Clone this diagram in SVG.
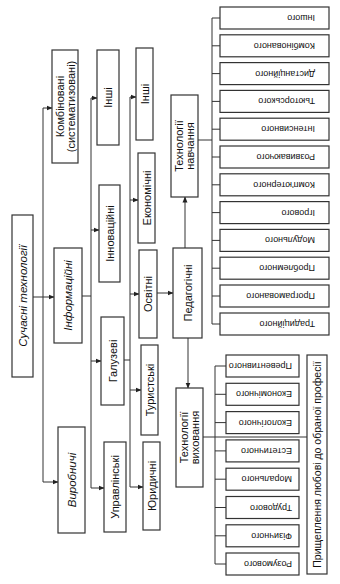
<svg xmlns="http://www.w3.org/2000/svg" width="340" height="584" viewBox="0 0 340 584">
<defs>
<marker id="ah" markerWidth="6" markerHeight="6" refX="5.5" refY="3" orient="auto" markerUnits="userSpaceOnUse">
<path d="M0,0.5 L6,3 L0,5.5 Z" fill="#222"/>
</marker>
<style>
rect{fill:#fff;stroke:#333;stroke-width:1.2}
.c line,.c path{stroke:#333;stroke-width:1;fill:none}
.a{marker-end:url(#ah)}
text{font-family:"Liberation Sans",Arial,sans-serif;fill:#111;text-anchor:middle;dominant-baseline:central}
.t{font-size:11px}
.i{font-size:11.5px;font-style:italic}
.s{font-size:9px;text-anchor:start}
.p{font-size:10.5px}
</style>
</defs>
<rect x="0" y="0" width="340" height="584" style="fill:#fff;stroke:none"/>

<g class="c" id="connectors">
<line x1="33" y1="297" x2="54" y2="297" class="a"/>
<line x1="43" y1="108" x2="43" y2="482"/>
<line x1="43" y1="108" x2="52" y2="108" class="a"/>
<line x1="43" y1="482" x2="58" y2="482" class="a"/>
<line x1="82" y1="296" x2="91" y2="296"/>
<line x1="91" y1="98" x2="91" y2="488"/>
<line x1="91" y1="98" x2="97" y2="98" class="a"/>
<line x1="91" y1="230" x2="99" y2="230" class="a"/>
<line x1="91" y1="361" x2="101" y2="361" class="a"/>
<line x1="91" y1="488" x2="104" y2="488" class="a"/>
<line x1="124" y1="360" x2="130" y2="360"/>
<line x1="130" y1="97" x2="130" y2="487"/>
<line x1="130" y1="97" x2="136" y2="97" class="a"/>
<line x1="130" y1="200" x2="138" y2="200" class="a"/>
<line x1="130" y1="294" x2="139" y2="294" class="a"/>
<line x1="130" y1="390" x2="141" y2="390" class="a"/>
<line x1="130" y1="487" x2="143" y2="487" class="a"/>
<line x1="157" y1="293" x2="173" y2="293" class="a"/>
<line x1="185" y1="248" x2="185" y2="197" class="a"/>
<line x1="188" y1="338" x2="188" y2="388" class="a"/>
<line x1="198" y1="140" x2="212" y2="140"/>
<line x1="212" y1="18" x2="212" y2="324"/>
<path d="M212,18H220M212,45.8H220M212,73.6H220M212,101.4H220M212,129.2H220M212,157H220M212,184.8H220M212,212.6H220M212,240.4H220M212,268.2H220M212,296H220M212,324H220"/>
<line x1="203" y1="437" x2="307" y2="437"/>
<line x1="215" y1="366" x2="215" y2="564"/>
<path d="M215,366H226M215,394.3H226M215,422.6H226M215,450.9H226M215,479.2H226M215,507.5H226M215,535.8H226M215,564H226"/>
</g>

<g id="n_root"><rect x="12" y="215" width="21" height="162"/><text class="i" transform="translate(22.5,296) rotate(-90)">Сучасні технології</text></g>
<g id="n_komb"><rect x="52" y="50" width="26" height="113"/><text class="t" transform="translate(65,106.5) rotate(-90)"><tspan x="0" y="-5.5">Комбіновані</tspan><tspan x="0" y="5.5">(систематизовані)</tspan></text></g>
<g id="n_inform"><rect x="54" y="248" width="28" height="95"/><text class="i" transform="translate(68,295.5) rotate(-90)">Інформаційні</text></g>
<g id="n_vyrob"><rect x="58" y="427" width="27" height="106"/><text class="i" transform="translate(71.5,480) rotate(-90)">Виробничі</text></g>
<g id="n_inshi1"><rect x="97" y="50" width="22" height="95"/><text class="t" transform="translate(108,97.5) rotate(-90)">Інші</text></g>
<g id="n_innov"><rect x="99" y="185" width="21" height="97"/><text class="t" transform="translate(109.5,233.5) rotate(-90)">Інноваційні</text></g>
<g id="n_haluz"><rect x="101" y="317" width="23" height="88"/><text class="t" transform="translate(112.5,361) rotate(-90)">Галузеві</text></g>
<g id="n_uprav"><rect x="104" y="442" width="22" height="90"/><text class="t" transform="translate(115,487) rotate(-90)">Управлінські</text></g>
<g id="n_inshi2"><rect x="136" y="48" width="17" height="92"/><text class="t" transform="translate(144.5,94) rotate(-90)">Інші</text></g>
<g id="n_ekon"><rect x="138" y="153" width="17" height="90"/><text class="t" transform="translate(146.5,198) rotate(-90)">Економічні</text></g>
<g id="n_osvit"><rect x="139" y="250" width="18" height="88"/><text class="t" transform="translate(148,294) rotate(-90)">Освітні</text></g>
<g id="n_turyst"><rect x="141" y="345" width="17" height="90"/><text class="t" transform="translate(149.5,390) rotate(-90)">Туристські</text></g>
<g id="n_yuryd"><rect x="143" y="442" width="17" height="88"/><text class="t" transform="translate(151.5,486) rotate(-90)">Юридичні</text></g>
<g id="n_ped"><rect x="173" y="248" width="29" height="90"/><text class="t" transform="translate(187.5,293) rotate(-90)">Педагогічні</text></g>
<g id="n_tn"><rect x="171" y="95" width="27" height="102"/><text class="t" transform="translate(184.5,146) rotate(-90)"><tspan x="0" y="-5.5">Технології</tspan><tspan x="0" y="5.5">навчання</tspan></text></g>
<g id="n_tv"><rect x="176" y="388" width="27" height="99"/><text class="t" transform="translate(189.5,437.5) rotate(-90)"><tspan x="0" y="-5.5">Технології</tspan><tspan x="0" y="5.5">виховання</tspan></text></g>

<g id="n_l1"><rect x="220" y="7" width="109" height="22"/><text class="s" transform="translate(315,18) rotate(180)">Іншого</text></g>
<g id="n_l2"><rect x="220" y="34.8" width="109" height="22"/><text class="s" transform="translate(315,45.8) rotate(180)">Комбінованого</text></g>
<g id="n_l3"><rect x="220" y="62.6" width="109" height="22"/><text class="s" transform="translate(315,73.6) rotate(180)">Дистанційного</text></g>
<g id="n_l4"><rect x="220" y="90.4" width="109" height="22"/><text class="s" transform="translate(315,101.4) rotate(180)">Тьюторського</text></g>
<g id="n_l5"><rect x="220" y="118.2" width="109" height="22"/><text class="s" transform="translate(315,129.2) rotate(180)">Інтенсивного</text></g>
<g id="n_l6"><rect x="220" y="146" width="109" height="22"/><text class="s" transform="translate(315,157) rotate(180)">Розвиваючого</text></g>
<g id="n_l7"><rect x="220" y="173.8" width="109" height="22"/><text class="s" transform="translate(315,184.8) rotate(180)">Комп'ютерного</text></g>
<g id="n_l8"><rect x="220" y="201.6" width="109" height="22"/><text class="s" transform="translate(315,212.6) rotate(180)">Ігрового</text></g>
<g id="n_l9"><rect x="220" y="229.4" width="109" height="22"/><text class="s" transform="translate(315,240.4) rotate(180)">Модульного</text></g>
<g id="n_l10"><rect x="220" y="257.2" width="109" height="22"/><text class="s" transform="translate(315,268.2) rotate(180)">Проблемного</text></g>
<g id="n_l11"><rect x="220" y="285" width="109" height="22"/><text class="s" transform="translate(315,296) rotate(180)">Програмованого</text></g>
<g id="n_l12"><rect x="220" y="313" width="109" height="22"/><text class="s" transform="translate(315,324) rotate(180)">Традиційного</text></g>

<g id="n_v1"><rect x="226" y="355" width="73" height="22"/><text class="s" transform="translate(292,366) rotate(180)">Превентивного</text></g>
<g id="n_v2"><rect x="226" y="383.3" width="73" height="22"/><text class="s" transform="translate(292,394.3) rotate(180)">Економічного</text></g>
<g id="n_v3"><rect x="226" y="411.6" width="73" height="22"/><text class="s" transform="translate(292,422.6) rotate(180)">Екологічного</text></g>
<g id="n_v4"><rect x="226" y="439.9" width="73" height="22"/><text class="s" transform="translate(292,450.9) rotate(180)">Естетичного</text></g>
<g id="n_v5"><rect x="226" y="468.2" width="73" height="22"/><text class="s" transform="translate(292,479.2) rotate(180)">Морального</text></g>
<g id="n_v6"><rect x="226" y="496.5" width="73" height="22"/><text class="s" transform="translate(292,507.5) rotate(180)">Трудового</text></g>
<g id="n_v7"><rect x="226" y="524.8" width="73" height="22"/><text class="s" transform="translate(292,535.8) rotate(180)">Фізичного</text></g>
<g id="n_v8"><rect x="226" y="553" width="73" height="22"/><text class="s" transform="translate(292,564) rotate(180)">Розумового</text></g>

<g id="n_pryshch"><rect x="307" y="355" width="20" height="219"/><text class="p" transform="translate(317,464.5) rotate(-90)">Прищеплення любові до обраної професії</text></g>
</svg>
